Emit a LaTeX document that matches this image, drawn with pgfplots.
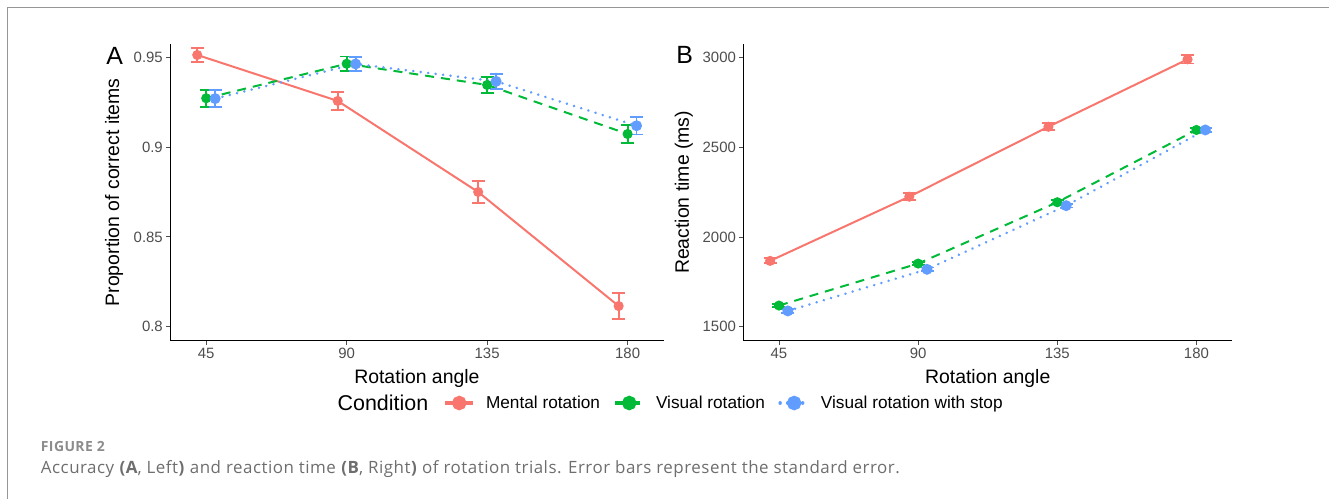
\documentclass[border=0pt]{standalone}
\usepackage{pgfplots}
\pgfplotsset{compat=1.18}
\usepackage{fontspec}
\setmainfont{Liberation Sans}
\newfontfamily\capfont[LetterSpace=3]{Open Sans}
\definecolor{cr}{HTML}{F8766D}
\definecolor{cg}{HTML}{00BA38}
\definecolor{cb}{HTML}{619CFF}
\definecolor{tickgrey}{HTML}{4D4D4D}
\definecolor{capgrey}{HTML}{6E6E6E}
\newcommand{\fs}[1]{\fontsize{#1}{#1}\selectfont}
\pgfplotsset{
  panel/.style={
    scale only axis,
    axis x line*=bottom, axis y line*=left,
    axis line style={-, black, line width=0.8bp},
    xmin=33.5, xmax=191.5,
    xtick={45,90,135,180},
    tick style={tickgrey, line width=0.8bp},
    tick align=outside,
    major tick length=4bp,
    tick label style={font=\fs{15}, text=tickgrey},
    /pgf/number format/assume math mode=true,
    /pgf/number format/1000 sep={},
    xlabel={Rotation angle},
    label style={font=\fs{19.5}},
    xlabel style={at={(axis description cs:0.5,-0.126)}, anchor=center},
    clip=false,
    legend image code/.code={
      \draw[mark repeat=2, mark phase=2, ##1, line width=3.5bp, mark size=5.5bp]
        plot coordinates {(0bp,0bp) (14bp,0bp) (28bp,0bp)};
    },
  },
  ser/.style={line width=2bp, color=#1, mark=*, mark size=4bp,
    mark options={solid, fill=#1, draw=#1},
    /pgfplots/error bars/y dir=both,
    /pgfplots/error bars/y explicit,
    /pgfplots/error bars/error bar style={solid, line width=1.8bp, color=#1},
    /pgfplots/error bars/error mark options={rotate=90, mark size=6.5bp, line width=1.8bp, solid, color=#1}},
  dashser/.style={dash pattern=on 9bp off 7bp},
  dotser/.style={line cap=round, dash pattern=on 0.01bp off 7.5bp, line width=2.8bp},
}
\begin{document}
\begin{tikzpicture}
\path[use as bounding box] (0,0) rectangle (1329bp,-499bp);
\draw[color={rgb,255:red,150;green,150;blue,150}, line width=1.4bp] (7.3bp,-499bp) -- (7.3bp,-7.6bp) -- (1329bp,-7.6bp);

\begin{axis}[panel,
  at={(170.3bp,-340.7bp)}, anchor=south west,
  width=493.2bp, height=296.7bp,
  ymin=0.7922, ymax=0.9574,
  ytick={0.8,0.85,0.9,0.95},
  yticklabels={0.8,0.85,0.9,0.95},
  ylabel={Proportion of correct items},
  ylabel style={at={(axis description cs:-0.114,0.5)}, anchor=center},
  legend style={draw=none, fill=none, at={(axis description cs:0.554,-0.21)}, anchor=west,
    legend columns=-1, font=\fs{17.3}, inner sep=0pt, outer sep=0pt,
    column sep=0bp,
    /tikz/every odd column/.append style={column sep=9bp},
    /tikz/every even column/.append style={column sep=11.5bp}},
]
\addplot[ser=cr] coordinates {
 (42.13,0.9513) +- (0,0.0040)
 (87.13,0.9257) +- (0,0.0050)
 (132.13,0.8750) +- (0,0.0060)
 (177.13,0.8115) +- (0,0.0074)
};
\addlegendentry{Mental rotation}
\addplot[ser=cg, dashser] coordinates {
 (45,0.9272) +- (0,0.0047)
 (90,0.9464) +- (0,0.0040)
 (135,0.9346) +- (0,0.0043)
 (180,0.9073) +- (0,0.0050)
};
\addlegendentry{Visual rotation}
\addplot[ser=cb, dotser] coordinates {
 (47.87,0.9270) +- (0,0.0046)
 (92.87,0.9463) +- (0,0.0038)
 (137.87,0.9366) +- (0,0.0043)
 (182.87,0.9119) +- (0,0.0049)
};
\addlegendentry{Visual rotation with stop}
\end{axis}

\begin{axis}[panel,
  at={(743.4bp,-340.7bp)}, anchor=south west,
  width=488.6bp, height=296.7bp,
  ymin=1421.9, ymax=3076.4,
  ytick={1500,2000,2500,3000},
  ylabel={Reaction time (ms)},
  ylabel style={at={(axis description cs:-0.122,0.5)}, anchor=center},
]
\addplot[ser=cr] coordinates {
 (42.13,1867) +- (0,14)
 (87.13,2225) +- (0,20)
 (132.13,2615) +- (0,20)
 (177.13,2991) +- (0,23)
};
\addplot[ser=cg, dashser] coordinates {
 (45,1618) +- (0,10)
 (90,1852) +- (0,10)
 (135,2194) +- (0,12)
 (180,2597) +- (0,12)
};
\addplot[ser=cb, dotser] coordinates {
 (47.87,1588) +- (0,10)
 (92.87,1820) +- (0,10)
 (137.87,2175) +- (0,10)
 (182.87,2597) +- (0,10)
};
\end{axis}

\node[font=\fs{25}, inner sep=0pt] at (114.7bp,-55.5bp) {A};
\node[font=\fs{25}, inner sep=0pt] at (684.7bp,-55.2bp) {B};
\node[font=\fs{21.5}, inner sep=0pt, anchor=west] at (337.5bp,-403bp) {Condition};

\node[font=\capfont\fs{14}\bfseries, text={rgb,255:red,140;green,140;blue,140}, inner sep=0pt, anchor=base west] at (40.7bp,-451.7bp) {FIGURE 2};
\node[font=\capfont\fs{17}, text=capgrey, inner sep=0pt, anchor=base west] at (40.7bp,-473bp) {Accuracy \textbf{(A}, Left\textbf{)} and reaction time \textbf{(B}, Right\textbf{)} of rotation trials. Error bars represent the standard error.};
\end{tikzpicture}
\end{document}
